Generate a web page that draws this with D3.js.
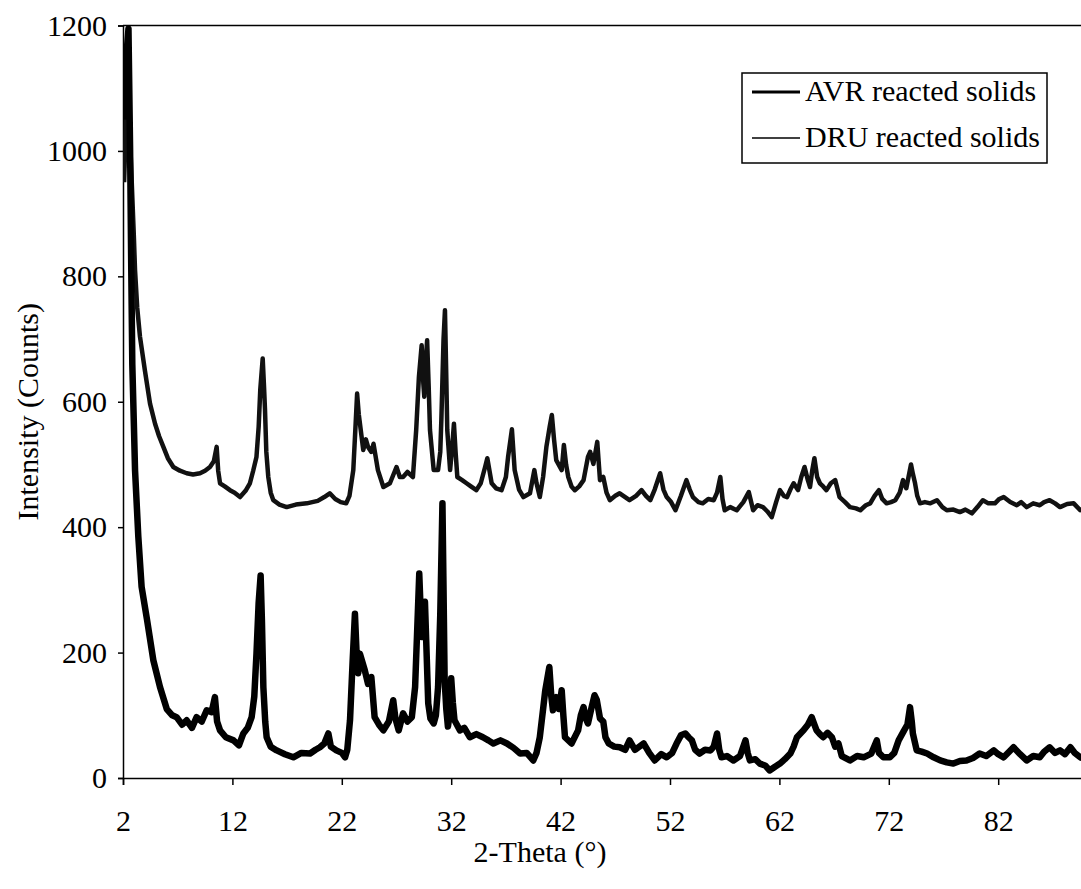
<!DOCTYPE html>
<html>
<head>
<meta charset="utf-8">
<script src="https://cdn.jsdelivr.net/npm/d3@7"></script>
<style>
  html, body { margin: 0; padding: 0; background: #fff; }
  svg { display: block; }
</style>
</head>
<body>
<div id="chart"></div>
<script>
// ---- data (2-Theta in degrees, intensity in counts) ----
const avrPoints = [
  [2.1, 1050], [2.3, 1150], [2.5, 1195], [2.65, 1000], [2.75, 820], [2.85, 660], [3.0, 560], [3.1, 491],
  [3.4, 385], [3.7, 305], [4.2, 252], [4.77, 188], [5.38, 145], [6.0, 110], [6.5, 100], [6.9, 97],
  [7.4, 85], [7.82, 92], [8.3, 80], [8.73, 97], [9.2, 90], [9.65, 108], [10.1, 105], [10.4, 129],
  [10.6, 90], [10.87, 76], [11.4, 65], [12.1, 60], [12.6, 52], [13.0, 71], [13.4, 80], [13.76, 97],
  [14.0, 130], [14.2, 198], [14.4, 280], [14.58, 323], [14.7, 250], [14.83, 145], [15.0, 90], [15.13, 65],
  [15.5, 50], [16.05, 44], [16.8, 38], [17.57, 33], [18.3, 40], [19.1, 39], [19.6, 45], [20.0, 49],
  [20.4, 55], [20.77, 71], [21.0, 50], [21.5, 44], [22.0, 40], [22.3, 33], [22.5, 45], [22.75, 92],
  [23.0, 190], [23.2, 262], [23.35, 200], [23.5, 167], [23.66, 198], [24.1, 172], [24.4, 150], [24.7, 161],
  [25.0, 97], [25.4, 85], [25.8, 76], [26.3, 90], [26.7, 124], [26.9, 95], [27.2, 76], [27.6, 103],
  [28.0, 90], [28.4, 97], [28.7, 145], [28.9, 240], [29.08, 326], [29.2, 270], [29.3, 225], [29.45, 260],
  [29.6, 281], [29.75, 200], [29.9, 119], [30.1, 95], [30.4, 87], [30.6, 100], [30.8, 145], [31.0, 260],
  [31.2, 438], [31.3, 300], [31.4, 156], [31.55, 110], [31.7, 82], [31.85, 100], [32.0, 159], [32.15, 120],
  [32.3, 92], [32.8, 76], [33.2, 80], [33.7, 65], [34.3, 70], [34.9, 65], [35.4, 60], [35.85, 55],
  [36.5, 60], [37.1, 55], [37.7, 48], [38.3, 39], [38.9, 40], [39.5, 28], [39.8, 40], [40.1, 65],
  [40.4, 110], [40.6, 140], [40.97, 177], [41.15, 130], [41.3, 108], [41.6, 129], [41.85, 110], [42.1, 140],
  [42.25, 100], [42.4, 65], [43.0, 55], [43.6, 76], [43.85, 100], [44.1, 113], [44.3, 95], [44.5, 87],
  [44.8, 110], [45.1, 132], [45.3, 125], [45.6, 95], [45.9, 90], [46.1, 65], [46.4, 55], [46.9, 50],
  [47.4, 49], [47.9, 45], [48.3, 60], [48.8, 45], [49.2, 50], [49.6, 55], [50.1, 40], [50.6, 28],
  [51.2, 38], [51.7, 33], [52.2, 40], [52.6, 55], [53.0, 68], [53.4, 71], [53.7, 65], [54.0, 60],
  [54.3, 45], [54.7, 39], [55.2, 45], [55.7, 44], [56.0, 50], [56.3, 71], [56.5, 45], [56.7, 33],
  [57.2, 35], [57.8, 28], [58.4, 35], [58.9, 60], [59.1, 40], [59.3, 28], [59.8, 30], [60.2, 23],
  [60.7, 20], [61.1, 12], [61.6, 18], [62.05, 23], [62.5, 30], [63.0, 39], [63.3, 50], [63.6, 65],
  [64.2, 76], [64.6, 85], [64.95, 97], [65.2, 85], [65.4, 76], [65.7, 70], [66.0, 65], [66.4, 72],
  [66.8, 65], [67.1, 50], [67.4, 55], [67.7, 35], [68.45, 28], [69.1, 35], [69.7, 33], [70.4, 39],
  [70.9, 60], [71.1, 40], [71.5, 33], [72.1, 33], [72.5, 40], [72.9, 60], [73.4, 76], [73.7, 85],
  [73.94, 113], [74.1, 90], [74.2, 71], [74.55, 44], [75.0, 42], [75.5, 39], [76.1, 33], [76.7, 28],
  [77.3, 25], [77.9, 23], [78.5, 27], [79.1, 28], [79.7, 32], [80.3, 39], [80.9, 35], [81.6, 44],
  [82.0, 38], [82.5, 33], [83.0, 42], [83.4, 49], [84.0, 38], [84.6, 28], [85.2, 35], [85.8, 33],
  [86.2, 42], [86.7, 49], [87.2, 40], [87.65, 44], [88.1, 38], [88.6, 49], [89.0, 40], [89.5, 33], [90, 30]
];

const druPoints = [
  [2.1, 950], [2.3, 1060], [2.45, 1095], [2.6, 1040], [2.8, 950], [3.0, 860], [3.1, 810], [3.3, 750],
  [3.55, 704], [4.0, 650], [4.47, 597], [4.93, 565], [5.3, 545], [5.69, 528], [6.1, 510], [6.6, 496],
  [7.2, 490], [7.82, 486], [8.4, 484], [9.04, 486], [9.5, 490], [9.95, 496], [10.3, 505], [10.56, 528],
  [10.7, 490], [10.87, 470], [11.3, 465], [11.78, 459], [12.2, 455], [12.7, 448], [13.2, 458], [13.6, 470],
  [13.9, 490], [14.2, 512], [14.4, 560], [14.55, 620], [14.77, 669], [14.9, 620], [14.98, 587], [15.1, 520],
  [15.28, 480], [15.5, 455], [15.74, 443], [16.3, 436], [16.96, 432], [17.8, 436], [18.8, 438], [19.8, 442],
  [20.4, 448], [20.9, 454], [21.4, 445], [21.9, 440], [22.4, 438], [22.7, 450], [23.05, 491], [23.25, 560],
  [23.4, 613], [23.55, 580], [23.66, 565], [23.96, 523], [24.2, 540], [24.4, 528], [24.7, 520], [24.9, 533],
  [25.3, 491], [25.8, 464], [26.4, 470], [27.0, 496], [27.3, 480], [27.6, 480], [28.0, 488], [28.5, 480],
  [28.8, 555], [29.05, 640], [29.3, 690], [29.45, 630], [29.54, 608], [29.65, 660], [29.8, 698], [29.95, 620],
  [30.06, 555], [30.4, 491], [30.8, 491], [31.0, 520], [31.1, 571], [31.3, 700], [31.43, 746], [31.55, 640],
  [31.64, 555], [31.9, 491], [32.1, 530], [32.25, 565], [32.4, 520], [32.56, 480], [33.0, 475], [33.4, 470],
  [33.8, 465], [34.3, 459], [34.7, 470], [35.1, 496], [35.3, 510], [35.7, 470], [36.1, 462], [36.6, 459],
  [37.0, 480], [37.2, 512], [37.55, 556], [37.8, 491], [38.2, 460], [38.6, 448], [39.2, 454], [39.6, 491],
  [39.8, 470], [40.1, 448], [40.4, 480], [40.7, 528], [41.0, 560], [41.2, 579], [41.4, 540], [41.6, 507],
  [42.1, 491], [42.3, 531], [42.5, 500], [42.7, 480], [43.0, 465], [43.3, 459], [43.7, 465], [44.1, 475],
  [44.5, 512], [44.7, 520], [45.0, 501], [45.35, 536], [45.6, 475], [45.9, 480], [46.2, 455], [46.5, 443],
  [47.0, 450], [47.4, 454], [47.9, 448], [48.3, 443], [48.9, 450], [49.4, 459], [49.8, 450], [50.2, 443],
  [50.6, 460], [51.1, 486], [51.4, 460], [51.7, 448], [52.1, 440], [52.5, 427], [53.0, 450], [53.5, 475],
  [53.8, 460], [54.1, 448], [54.6, 440], [55.0, 438], [55.5, 445], [56.0, 443], [56.3, 455], [56.6, 480],
  [56.8, 445], [57.0, 427], [57.5, 432], [58.1, 427], [58.7, 440], [59.2, 456], [59.6, 427], [60.0, 435],
  [60.5, 432], [60.9, 425], [61.3, 416], [61.7, 440], [62.05, 459], [62.4, 450], [62.7, 448], [63.0, 460],
  [63.3, 470], [63.7, 459], [64.0, 480], [64.3, 496], [64.6, 475], [64.8, 464], [65.0, 490], [65.2, 510],
  [65.45, 480], [65.7, 470], [66.0, 465], [66.3, 459], [66.7, 470], [67.1, 475], [67.5, 448], [68.0, 440],
  [68.45, 432], [69.0, 430], [69.4, 427], [69.9, 435], [70.3, 438], [70.7, 450], [71.1, 459], [71.4, 445],
  [71.8, 438], [72.2, 440], [72.6, 443], [73.0, 455], [73.3, 475], [73.6, 462], [74.03, 500], [74.2, 485],
  [74.4, 470], [74.6, 450], [74.85, 438], [75.3, 440], [75.8, 438], [76.4, 443], [76.9, 432], [77.3, 427],
  [77.9, 428], [78.5, 424], [79.0, 428], [79.6, 422], [80.1, 432], [80.6, 443], [81.1, 438], [81.7, 438],
  [82.1, 445], [82.5, 448], [83.1, 440], [83.7, 435], [84.1, 440], [84.6, 432], [85.2, 438], [85.8, 435],
  [86.2, 440], [86.7, 443], [87.2, 438], [87.65, 432], [88.3, 437], [88.9, 438], [89.5, 427], [90, 430]
];

const xTicks = [2, 12, 22, 32, 42, 52, 62, 72, 82];
const yTicks = [0, 200, 400, 600, 800, 1000, 1200];
const seriesNames = ["AVR reacted solids", "DRU reacted solids"];

// ---- layout ----
const W = 1081, H = 889;
const margin = { left: 123, top: 25.5 };
const plotBottom = 778;
const plotRight = margin.left + 88 * 10.94; // 90 deg falls just past the image edge

const font = "'Liberation Serif', 'Times New Roman', serif";
const fontSize = "30px";

const svg = d3.select("#chart").append("svg")
  .attr("width", W)
  .attr("height", H)
  .style("font-family", font);

const x = d3.scaleLinear().domain([2, 90]).range([margin.left, plotRight]);
const y = d3.scaleLinear().domain([0, 1200]).range([plotBottom, margin.top]);

svg.append("clipPath").attr("id", "plot-clip")
  .append("rect")
  .attr("x", margin.left).attr("y", margin.top)
  .attr("width", plotRight - margin.left).attr("height", plotBottom - margin.top);

// frame line along the top
svg.append("line")
  .attr("x1", x(2)).attr("x2", plotRight)
  .attr("y1", y(1200)).attr("y2", y(1200))
  .attr("stroke", "#000").attr("stroke-width", 1.5);

// axes
const xAxis = d3.axisBottom(x).tickValues(xTicks).tickSize(7).tickPadding(25)
  .tickFormat(d3.format("d"));
svg.append("g")
  .attr("transform", `translate(0,${plotBottom})`)
  .call(xAxis)
  .call(g => g.select(".domain").attr("stroke-width", 1.5))
  .call(g => g.selectAll("line").attr("stroke-width", 1.5))
  .call(g => g.selectAll("text")
    .style("font-family", font).style("font-size", fontSize).attr("fill", "#000"));

const yAxis = d3.axisLeft(y).tickValues(yTicks).tickSize(5).tickPadding(11)
  .tickFormat(d3.format("d"));
svg.append("g")
  .attr("transform", `translate(${margin.left},0)`)
  .call(yAxis)
  .call(g => g.select(".domain").attr("stroke-width", 1.5))
  .call(g => g.selectAll("line").attr("stroke-width", 1.5))
  .call(g => g.selectAll("text")
    .style("font-family", font).style("font-size", fontSize).attr("fill", "#000"));

// axis titles
svg.append("text")
  .attr("x", 540).attr("y", 862)
  .attr("text-anchor", "middle")
  .style("font-size", fontSize)
  .text("2-Theta (°)");

svg.append("text")
  .attr("transform", `translate(38,${(y(0) + y(1200)) / 2 + 10}) rotate(-90)`)
  .attr("text-anchor", "middle")
  .style("font-size", fontSize)
  .text("Intensity (Counts)");

// curves (thick strokes stand in for the noisy band of the scan)
const line = d3.line().x(d => x(d[0])).y(d => y(d[1]));
const curves = svg.append("g").attr("clip-path", "url(#plot-clip)");

curves.append("path")
  .datum(druPoints)
  .attr("d", line)
  .attr("fill", "none")
  .attr("stroke", "#111")
  .attr("stroke-width", 4.5)
  .attr("stroke-linejoin", "round");

curves.append("path")
  .datum(avrPoints)
  .attr("d", line)
  .attr("fill", "none")
  .attr("stroke", "#000")
  .attr("stroke-width", 6.5)
  .attr("stroke-linejoin", "round");

// legend box, top right
const legend = svg.append("g").attr("transform", "translate(742,73)");
legend.append("rect")
  .attr("width", 305).attr("height", 90)
  .attr("fill", "#fff").attr("stroke", "#000").attr("stroke-width", 1.5);

seriesNames.forEach((name, i) => {
  const row = legend.append("g").attr("transform", `translate(0,${19 + i * 46})`);
  row.append("line")
    .attr("x1", 10).attr("x2", 58)
    .attr("stroke", "#000")
    .attr("stroke-width", i === 0 ? 3 : 1.5);
  row.append("text")
    .attr("x", 63).attr("y", 9)
    .style("font-size", fontSize)
    .text(name);
});
</script>
</body>
</html>
